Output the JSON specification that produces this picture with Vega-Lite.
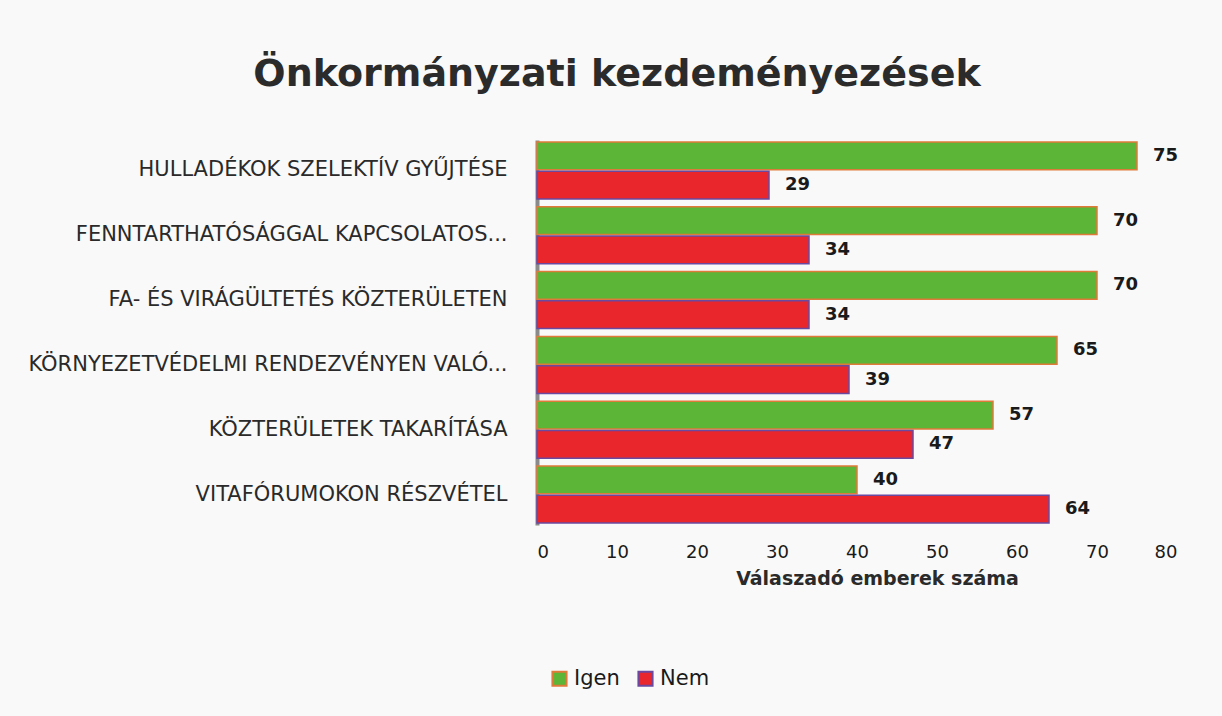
{
  "$schema": "https://vega.github.io/schema/vega-lite/v6.json",
  "autosize": "none",
  "width": 640,
  "height": 385,
  "padding": {"left": 537, "top": 140, "right": 45, "bottom": 191},
  "background": "#f9f9f9",
  "config": {"view": {"stroke": null}},
  "title": {
    "text": "Önkormányzati kezdeményezések",
    "anchor": "middle",
    "dx": -240,
    "offset": 46,
    "fontSize": 38,
    "font": "DejaVu Sans",
    "fontWeight": "bold",
    "color": "#2b2b2b"
  },
  "data": {
    "values": [
      {"cat": "HULLADÉKOK SZELEKTÍV GYŰJTÉSE", "valasz": "Igen", "n": 75},
      {"cat": "HULLADÉKOK SZELEKTÍV GYŰJTÉSE", "valasz": "Nem", "n": 29},
      {"cat": "FENNTARTHATÓSÁGGAL KAPCSOLATOS...", "valasz": "Igen", "n": 70},
      {"cat": "FENNTARTHATÓSÁGGAL KAPCSOLATOS...", "valasz": "Nem", "n": 34},
      {"cat": "FA- ÉS VIRÁGÜLTETÉS KÖZTERÜLETEN", "valasz": "Igen", "n": 70},
      {"cat": "FA- ÉS VIRÁGÜLTETÉS KÖZTERÜLETEN", "valasz": "Nem", "n": 34},
      {"cat": "KÖRNYEZETVÉDELMI RENDEZVÉNYEN VALÓ...", "valasz": "Igen", "n": 65},
      {"cat": "KÖRNYEZETVÉDELMI RENDEZVÉNYEN VALÓ...", "valasz": "Nem", "n": 39},
      {"cat": "KÖZTERÜLETEK TAKARÍTÁSA", "valasz": "Igen", "n": 57},
      {"cat": "KÖZTERÜLETEK TAKARÍTÁSA", "valasz": "Nem", "n": 47},
      {"cat": "VITAFÓRUMOKON RÉSZVÉTEL", "valasz": "Igen", "n": 40},
      {"cat": "VITAFÓRUMOKON RÉSZVÉTEL", "valasz": "Nem", "n": 64}
    ]
  },
  "encoding": {
    "y": {
      "field": "cat",
      "type": "nominal",
      "sort": null,
      "scale": {"paddingInner": 0.12, "paddingOuter": 0.03},
      "axis": {
        "title": null,
        "labelLimit": 600,
        "labelFontSize": 21,
        "labelFont": "DejaVu Sans",
        "labelColor": "#2a2a2a",
        "labelPadding": 30,
        "ticks": false,
        "domainColor": "#8a8a8a",
        "domainWidth": 4
      }
    },
    "yOffset": {"field": "valasz", "type": "nominal", "sort": ["Igen", "Nem"], "scale": {"paddingInner": 0.05}},
    "x": {
      "field": "n",
      "type": "quantitative",
      "scale": {"domain": [0, 80]},
      "axis": {
        "values": [0, 10, 20, 30, 40, 50, 60, 70, 80],
        "title": "Válaszadó emberek száma",
        "titleFontSize": 19,
        "titleFont": "DejaVu Sans",
        "titleFontWeight": "bold",
        "titleColor": "#2a2a2a",
        "titlePadding": 8,
        "titleX": 340,
        "labelFontSize": 18,
        "labelFont": "DejaVu Sans",
        "labelColor": "#1a1a1a",
        "labelPadding": 18,
        "ticks": false,
        "domain": false,
        "grid": false
      }
    }
  },
  "layer": [
    {
      "mark": {"type": "bar", "strokeWidth": 1.5},
      "encoding": {
        "color": {
          "field": "valasz",
          "type": "nominal",
          "scale": {"domain": ["Igen", "Nem"], "range": ["#5cb536", "#e8262b"]},
          "legend": {
            "title": null,
            "orient": "none",
            "direction": "horizontal",
            "legendX": 12,
            "legendY": 528,
            "symbolType": "square",
            "symbolSize": 200,
            "symbolStrokeWidth": 2,
            "labelFontSize": 21,
            "labelFont": "DejaVu Sans",
            "labelColor": "#1a1a1a",
            "labelOffset": 4,
            "columnPadding": 14
          }
        },
        "stroke": {
          "field": "valasz",
          "type": "nominal",
          "scale": {"domain": ["Igen", "Nem"], "range": ["#e07a3a", "#6a4aa0"]},
          "legend": null
        }
      }
    },
    {
      "mark": {"type": "text", "align": "left", "dx": 16, "fontSize": 18, "font": "DejaVu Sans", "fontWeight": "bold", "color": "#1a1a1a"},
      "encoding": {"text": {"field": "n", "type": "quantitative"}}
    }
  ]
}
